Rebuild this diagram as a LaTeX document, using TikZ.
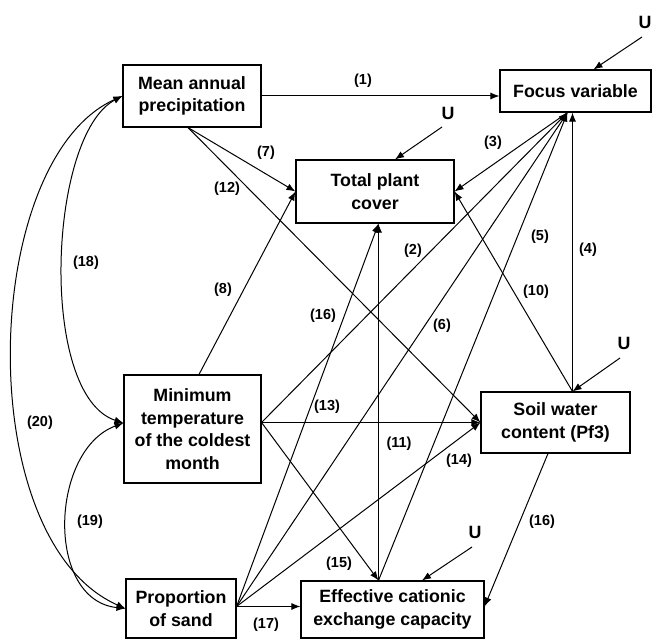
\documentclass[tikz,border=0pt]{standalone}
\usepackage{fontspec}
\setmainfont{Liberation Sans}
\usetikzlibrary{arrows.meta,calc}
\begin{document}
\begin{tikzpicture}[x=1pt,y=-1pt,
  box/.style={draw, line width=1.1pt, align=center, font=\bfseries\fontsize{17.8}{22.5}\selectfont, inner sep=0pt},
  lbl/.style={font=\bfseries\fontsize{14.5}{16}\selectfont, inner sep=0pt},
  ulbl/.style={font=\bfseries\fontsize{17.8}{20}\selectfont, inner sep=0pt},
  arr/.style={-{Latex[length=9pt,width=7pt]}, line width=1pt},
  darr/.style={{Latex[length=9pt,width=7pt]}-{Latex[length=9pt,width=7pt]}, line width=1pt}]
\useasboundingbox (0,0) rectangle (653,639);
% boxes
\node[box, minimum width=138pt, minimum height=62pt] (map) at (192,96) {Mean annual\\precipitation};
\node[box, minimum width=151pt, minimum height=42pt] (focus) at (575.5,91) {Focus variable};
\node[box, minimum width=158pt, minimum height=63pt] (tpc) at (375,191.5) {Total plant\\cover};
\node[box, minimum width=137pt, minimum height=108pt] (mt) at (192.5,429) {Minimum\\temperature\\of the coldest\\month};
\node[box, minimum width=149pt, minimum height=61pt] (soil) at (555.5,422.5) {Soil water\\content (Pf3)};
\node[box, minimum width=110pt, minimum height=59pt] (ps) at (181,608.5) {Proportion\\of sand};
\node[box, minimum width=183pt, minimum height=57pt] (ecec) at (392.5,609.5) {Effective cationic\\exchange capacity};
% anchor points
\coordinate (mapS) at ([xshift=-4pt]map.south);
\coordinate (fS) at ([xshift=-8pt]focus.south);
\coordinate (swN) at ([xshift=17pt]soil.north);
\coordinate (fS4) at (swN |- focus.south);
\coordinate (tpcS) at ([xshift=3.5pt]tpc.south);
\coordinate (ecN) at (tpcS |- ecec.north);
\coordinate (mtN) at ([xshift=6.5pt]mt.north);
\coordinate (mtE) at ([yshift=6.5pt]mt.east);
\coordinate (mtW) at ([yshift=6pt]mt.west);
\coordinate (psE) at ([yshift=2pt]ps.east);
\coordinate (psW) at (ps.west);
\coordinate (ecE) at ([yshift=3pt]ecec.east);
\coordinate (soilS) at ([xshift=-7.5pt]soil.south);
\coordinate (ecW) at (psE -| ecec.west);
% edges
\draw[arr] (map.east) -- (map.east -| focus.west);
\draw[arr] (mtE) -- (fS);
\draw[arr] (fS) -- (tpc.east);
\draw[arr] (swN) -- (fS4);
\draw[arr] (ecN) -- (fS);
\draw[arr] (psE) -- (fS);
\draw[arr] (mapS) -- (tpc.west);
\draw[arr] (mtN) -- (tpc.west);
\draw[arr] (swN) -- (tpc.east);
\draw[arr] (ecN) -- (tpcS);
\draw[arr] (mapS) -- (soil.west);
\draw[arr] (mtE) -- (mtE -| soil.west);
\draw[arr] (psE) -- (soil.west);
\draw[arr] (mtE) -- (ecN);
\draw[arr] (psE) -- (tpcS);
\draw[arr] (soilS) -- (ecE);
\draw[arr] (psE) -- (ecW);
% curved correlations
\draw[darr] (map.west) .. controls (48,135) and (38,395) .. (mtW);
\draw[darr] (map.west) .. controls (-20,160) and (-30,540) .. (psW);
\draw[darr] (mtW) .. controls (50,450) and (45,600) .. (psW);
% error terms
\node[ulbl] (uF) at (645,22) {U};
\coordinate (uFs) at (642,37);
\draw[arr] (uFs) -- ([xshift=18pt]focus.north);
\node[ulbl] (uT) at (448,113) {U};
\coordinate (uTs) at (442,127);
\draw[arr] (uTs) -- ([xshift=20pt]tpc.north);
\node[ulbl] (uS) at (624,343) {U};
\coordinate (uSs) at (620,358);
\draw[arr] (uSs) -- (swN);
\node[ulbl] (uE) at (475,532) {U};
\coordinate (uEs) at (472,547);
\draw[arr] (uEs) -- ([xshift=29.5pt]ecec.north);
% labels
\node[lbl] (l1) at (363,81) {(1)};
\node[lbl] (l2) at (413,251) {(2)};
\node[lbl] (l3) at (493,143) {(3)};
\node[lbl] (l4) at (588,250) {(4)};
\node[lbl] (l5) at (540,237) {(5)};
\node[lbl] (l6) at (442,326) {(6)};
\node[lbl] (l7) at (266,153) {(7)};
\node[lbl] (l8) at (223,290) {(8)};
\node[lbl] (l10) at (536,292) {(10)};
\node[lbl] (l11) at (399,444) {(11)};
\node[lbl] (l12) at (227,189) {(12)};
\node[lbl] (l13) at (327,407) {(13)};
\node[lbl] (l14) at (459,461) {(14)};
\node[lbl] (l15) at (339,564) {(15)};
\node[lbl] (l16a) at (323,316) {(16)};
\node[lbl] (l16b) at (542,522) {(16)};
\node[lbl] (l17) at (266,625) {(17)};
\node[lbl] (l18) at (86,263) {(18)};
\node[lbl] (l19) at (90,522) {(19)};
\node[lbl] (l20) at (40,423) {(20)};
\end{tikzpicture}
\end{document}
